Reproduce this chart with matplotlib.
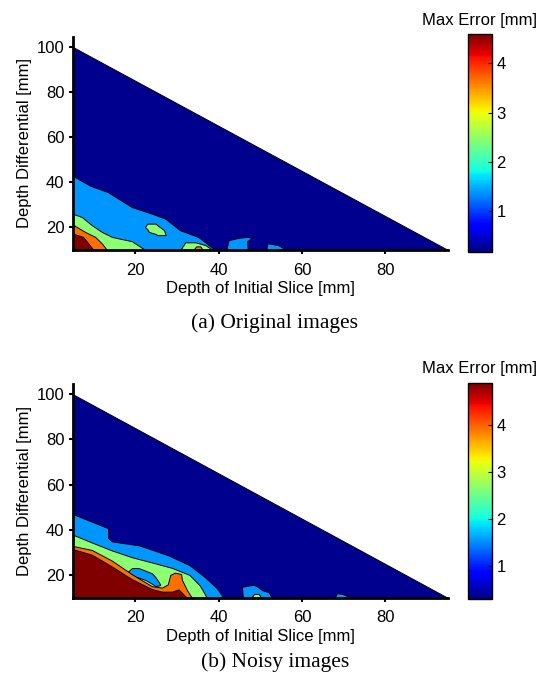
import matplotlib
matplotlib.use("Agg")
import matplotlib.pyplot as plt
from matplotlib.colors import Normalize
from matplotlib.cm import ScalarMappable

plt.rcParams["font.family"] = ["Liberation Sans", "DejaVu Sans"]

# contour band colours (jet colours at the contour levels)
NAVY = "#00008F"
BLUE = "#0096FF"
GREEN = "#8CFF73"
ORANGE = "#FF6E00"
RED = "#800000"

# tested domain: deepest differential for each depth of initial slice
slice_depth = [5, 95]
max_differential = [100, 10]
min_differential = 10

# ---- (a) original images: contour regions, x = initial depth, y = upper edge
orig_blue_x = [5, 9.2, 13.5, 19.2, 24, 27.2, 30.7, 35.1, 38.7, 39.5]
orig_blue_y = [42.9, 38.5, 35.6, 29, 26.1, 23.9, 18.8, 15.8, 10.7, 10]
orig_blue_p1_x = [41.8, 42.4, 44.8, 46.8, 48.0, 46.8, 47.0]
orig_blue_p1_y = [10, 14.4, 15.4, 15.8, 15.4, 13.8, 10]
orig_blue_p2_x = [51.4, 51.7, 54.3, 56.2]
orig_blue_p2_y = [10, 13, 12.2, 10]
orig_green_x = [5, 7.2, 9.6, 12, 14.4, 19.2, 22.4]
orig_green_y = [26.1, 24.6, 21, 18, 15.8, 13.9, 10]
orig_green_isl_x = [22.35, 22.9, 23.3, 24.9, 25.3, 26.9, 27.3]
orig_green_isl_hi = [20.2, 21.7, 21.7, 21.7, 21.0, 18.8, 16.6]
orig_green_isl_lo = [20.2, 19.2, 18.0, 17.1, 16.6, 16.6, 16.6]
orig_green_p_x = [30.8, 32, 34.4, 36.8, 38.6]
orig_green_p_y = [10, 13.4, 13.4, 12.2, 10]
orig_orange_x = [5, 8, 10.4, 12, 13.2]
orig_orange_y = [21.3, 18, 15.8, 12.9, 10]
orig_orange_p_x = [33.9, 34.6, 35.6, 36.2]
orig_orange_p_y = [10, 11.6, 11.6, 10]
orig_red_x = [5, 7.5, 10]
orig_red_y = [17.3, 15.8, 10]
orig_err_range = (0.17, 4.59)

# ---- (b) noisy images
noisy_blue_x = [5, 13.5, 13.5, 14.4, 21, 28, 33, 36.5, 39.5, 41.2]
noisy_blue_y = [47.1, 40.8, 36.5, 35, 33.2, 28.8, 24.5, 19.5, 14.5, 10]
noisy_blue_p1_x = [45.8, 45.6, 48.3, 49.2, 50.4, 52, 52.8]
noisy_blue_p1_y = [10, 15, 15.8, 15.2, 13.5, 12.5, 10]
noisy_blue_p2_x = [59, 60, 61]
noisy_blue_p2_y = [10, 10.8, 10]
noisy_blue_p3_x = [67.8, 68.4, 70, 71.7]
noisy_blue_p3_y = [10, 12.2, 11.6, 10]
noisy_green_x = [5, 9.6, 14.4, 19.2, 24, 28.8, 33, 35.5, 37.2]
noisy_green_y = [38, 34.5, 31, 28, 25.7, 23.3, 20.2, 15.5, 10]
noisy_green_p_x = [47.8, 48.5, 49.6, 50.2]
noisy_green_p_y = [10, 11.8, 11.8, 10]
noisy_blue_isl_x = [18, 19.2, 20.8, 22.4, 24, 24.8, 25.6, 26]
noisy_blue_isl_hi = [21.3, 23.2, 23.2, 22.1, 20.9, 19.3, 17.2, 15.8]
noisy_blue_isl_lo = [21.3, 19.4, 19.0, 18, 16.3, 15.3, 15.5, 15.8]
noisy_orange_x = [5, 9.6, 14.4, 19.2, 24, 26.4, 27.8, 28.4, 29.5, 31, 31.2, 32.4, 33.6]
noisy_orange_y = [33, 31.2, 26.5, 20.5, 15.2, 14.6, 16, 20.2, 21.2, 20.6, 18, 13.5, 10]
noisy_red_x = [5, 9.6, 14.4, 19.2, 24, 26.4, 28.8, 30.4, 32.4]
noisy_red_y = [31.6, 29.1, 23.9, 18.3, 13.9, 12.8, 12.8, 13.8, 10]
noisy_err_range = (0.29, 4.89)

cbar_ticks = [1, 2, 3, 4]

# regions in drawing order: (x, lower, upper, colour)
orig_regions = [
    (orig_blue_x, min_differential, orig_blue_y, BLUE),
    (orig_blue_p1_x, min_differential, orig_blue_p1_y, BLUE),
    (orig_blue_p2_x, min_differential, orig_blue_p2_y, BLUE),
    (orig_green_x, min_differential, orig_green_y, GREEN),
    (orig_green_isl_x, orig_green_isl_lo, orig_green_isl_hi, GREEN),
    (orig_green_p_x, min_differential, orig_green_p_y, GREEN),
    (orig_orange_x, min_differential, orig_orange_y, ORANGE),
    (orig_orange_p_x, min_differential, orig_orange_p_y, ORANGE),
    (orig_red_x, min_differential, orig_red_y, RED),
]
noisy_regions = [
    (noisy_blue_x, min_differential, noisy_blue_y, BLUE),
    (noisy_blue_p1_x, min_differential, noisy_blue_p1_y, BLUE),
    (noisy_blue_p2_x, min_differential, noisy_blue_p2_y, BLUE),
    (noisy_blue_p3_x, min_differential, noisy_blue_p3_y, BLUE),
    (noisy_green_x, min_differential, noisy_green_y, GREEN),
    (noisy_green_p_x, min_differential, noisy_green_p_y, GREEN),
    (noisy_blue_isl_x, noisy_blue_isl_lo, noisy_blue_isl_hi, BLUE),
    (noisy_orange_x, min_differential, noisy_orange_y, ORANGE),
    (noisy_red_x, min_differential, noisy_red_y, RED),
]


def draw_panel(fig, ax_rect, cax_rect, regions, err_range, caption, caption_y, label_y):
    ax = fig.add_axes(ax_rect)
    ax.fill_between(slice_depth, min_differential, max_differential,
                    facecolor=NAVY, edgecolor="black", linewidth=0.7)
    for x, lo, hi, col in regions:
        ax.fill_between(x, lo, hi, facecolor=col, edgecolor="black", linewidth=0.7)

    ax.set_xlim(5, 95)
    ax.set_ylim(10, 104.5)
    ax.set_xticks([20, 40, 60, 80])
    ax.set_yticks([20, 40, 60, 80, 100])
    for side in ["top", "right"]:
        ax.spines[side].set_visible(False)
    for side in ["left", "bottom"]:
        ax.spines[side].set_linewidth(2)
    ax.tick_params(direction="out", length=3, width=1.5, labelsize=12, pad=3)
    ax.tick_params(axis="x", pad=6)
    ax.set_xlabel("Depth of Initial Slice [mm]", fontsize=12, labelpad=2.5)
    ax.set_ylabel("Depth Differential [mm]", fontsize=12, labelpad=3)

    cax = fig.add_axes(cax_rect)
    sm = ScalarMappable(norm=Normalize(*err_range), cmap="jet")
    cb = fig.colorbar(sm, cax=cax, ticks=cbar_ticks)
    cb.outline.set_linewidth(1)
    cax.tick_params(direction="in", length=3, labelsize=12, pad=3)

    fig.text(0.998, label_y, "Max Error [mm]", ha="right", va="center", fontsize=12)
    fig.text(0.511, caption_y, caption, ha="center", va="center", fontsize=15.5,
             family=["Liberation Serif", "DejaVu Serif"])


fig = plt.figure(figsize=(5.38, 6.79), dpi=100)

draw_panel(fig, [0.1351, 0.6318, 0.6976, 0.3141], [0.8693, 0.6293, 0.0457, 0.3202],
           orig_regions, orig_err_range, "(a) Original images", 1 - 323 / 679, 1 - 20 / 679)
draw_panel(fig, [0.1351, 0.1193, 0.6976, 0.3152], [0.8693, 0.1178, 0.0457, 0.3177],
           noisy_regions, noisy_err_range, "(b) Noisy images", 1 - 662 / 679, 1 - 368 / 679)

fig.savefig("out.png", dpi=100)
